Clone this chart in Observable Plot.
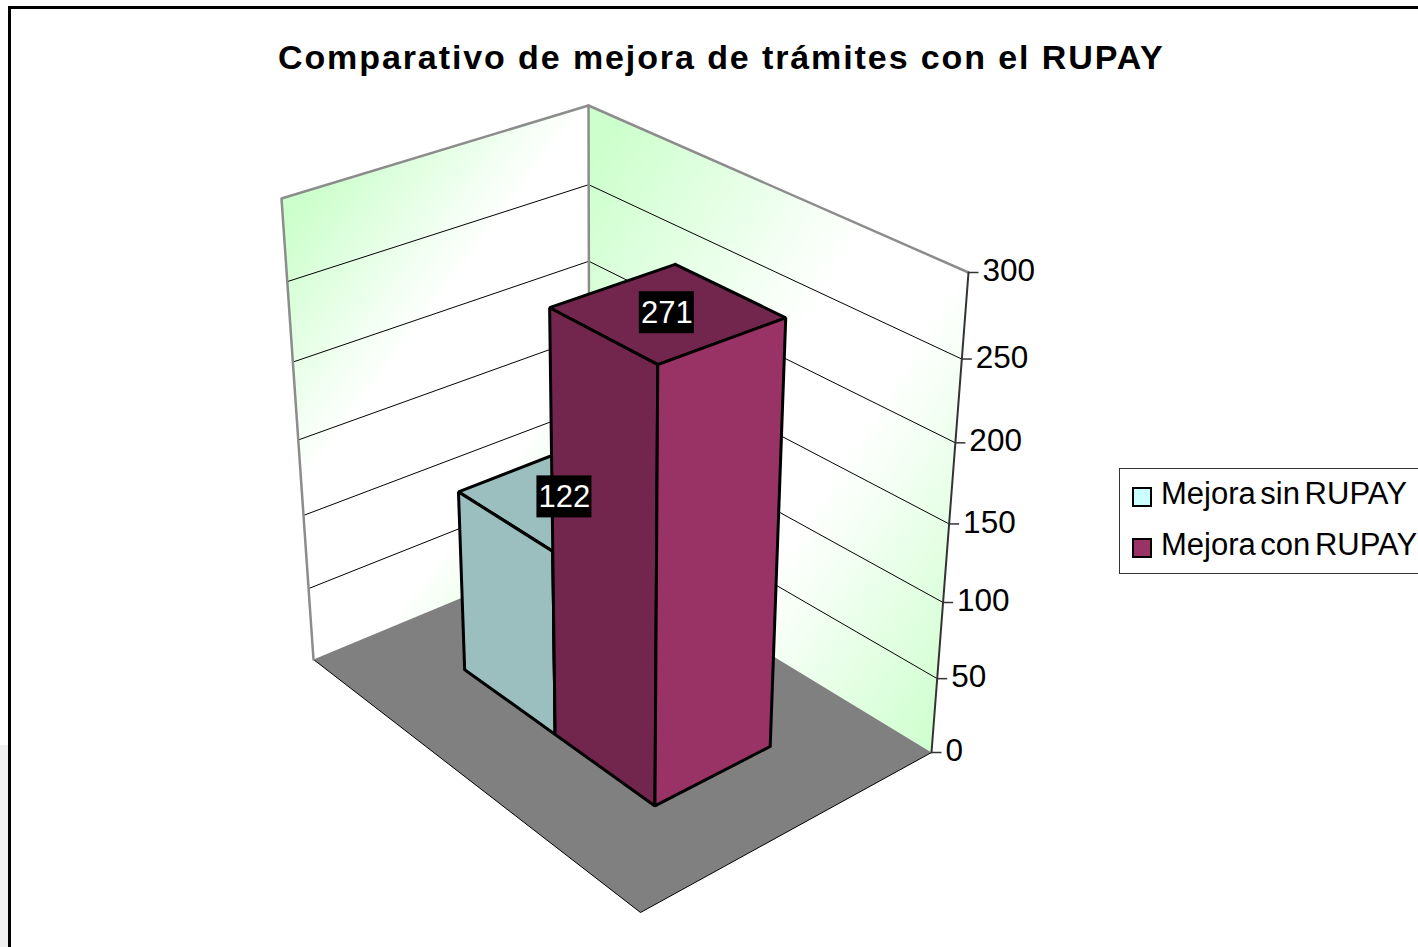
<!DOCTYPE html>
<html lang="es">
<head>
<meta charset="utf-8">
<title>Comparativo de mejora de trámites con el RUPAY</title>
<script src="https://cdn.jsdelivr.net/npm/d3@7"></script>
<script src="https://cdn.jsdelivr.net/npm/@observablehq/plot@0.6"></script>
<style>
  html,body{margin:0;padding:0;background:#fff;overflow:hidden}
  #page{position:relative;width:1418px;height:947px;overflow:hidden;font-family:"Liberation Sans",Arial,sans-serif;color:#000}
  #frame{position:absolute;left:8px;top:6px;width:1500px;height:1000px;border-left:3px solid #000;border-top:3px solid #000}
  #strip{position:absolute;left:0;top:745px;width:8px;height:202px;background:#f0f0f0}
  #title{position:absolute;left:278px;top:37px;font-weight:bold;font-size:34px;line-height:40px;white-space:nowrap;letter-spacing:1.9px}
  #chart{position:absolute;left:0;top:0}
  #legend{position:absolute;left:1119px;top:468px;width:330px;height:104px;border:1px solid #333;background:#fff}
  .row{position:absolute;left:12px;font-size:31px;line-height:36px;white-space:nowrap;word-spacing:-4px}
  .swatch{position:absolute;left:0;top:11px;width:16px;height:16px;border:2.5px solid #000;box-sizing:content-box}
  .row span.t{position:absolute;left:29px;top:0}
</style>
</head>
<body>
<div id="page">
  <div id="strip"></div>
  <div id="frame"></div>
  <div id="chart"></div>
  <div id="title">Comparativo de mejora de trámites con el RUPAY</div>
  <div id="legend"></div>
</div>
<script>
// ---- data ----
const categories = ["Mejora sin RUPAY", "Mejora con RUPAY"];
const values = [122, 271];
const axisTicks = [0, 50, 100, 150, 200, 250, 300];
const swatchColors = ["#CCFFFF", "#993366"];
const sideColors = ["#9BBFBF", "#993366"];
const shadeColors = ["#9BBFBF", "#73264D"];
const axisMax = 300;

// ---- camera of the 3-D view: where the box corners fall on the page ----
const floorQuad = {o: [589, 544], l: [313, 659], r: [931, 752], f: [640, 912]};
const roofQuad = {o: [588, 105], l: [281, 198], r: [968, 272], f: [640, 392]};
const heightPerspective = 1.10;
const depthBand = [0.305, 0.705], sideBand = [0.222, 0.795];

function homography({o, l, r, f}) {
  const A = l[0] - f[0], B = r[0] - f[0], C = o[0] - f[0];
  const D = l[1] - f[1], E = r[1] - f[1], G = o[1] - f[1];
  const det = A * E - B * D;
  const a = (C * E - B * G) / det;
  const b = (A * G - C * D) / det;
  return (u, v) => {
    const w = 1 + u * (a - 1) + v * (b - 1);
    return [
      (o[0] + u * (a * l[0] - o[0]) + v * (b * r[0] - o[0])) / w,
      (o[1] + u * (a * l[1] - o[1]) + v * (b * r[1] - o[1])) / w
    ];
  };
}
const onFloor = homography(floorQuad), onRoof = homography(roofQuad);
function project(u, v, value) {
  const t = value / axisMax;
  const s = t / (t + (1 - t) * heightPerspective);
  const p = onFloor(u, v), q = onRoof(u, v);
  return {x: p[0] + (q[0] - p[0]) * s, y: p[1] + (q[1] - p[1]) * s};
}

// ---- faces built from the data through the camera ----
const pts = (face, fill, list) => list.map(([u, v, val]) => ({face, fill, ...project(u, v, val)}));
const leftWall = pts("leftWall", null, [[0,0,0],[1,0,0],[1,0,axisMax],[0,0,axisMax],[0,0,0]]);
const rightWall = pts("rightWall", null, [[0,0,0],[0,1,0],[0,1,axisMax],[0,0,axisMax],[0,0,0]]);
const floor = pts("floor", "#808080", [[0,0,0],[1,0,0],[1,1,0],[0,1,0],[0,0,0]]);
const floorEdge = pts("edge", null, [[1,0,0],[1,1,0],[0,1,0]]);
const grid = axisTicks.filter(t => t > 0 && t < axisMax)
  .flatMap(t => pts("g" + t, null, [[1,0,t],[0,0,t],[0,1,t]]));
const wallOutline = [
  ...pts("o1", null, [[1,0,0],[1,0,axisMax],[0,0,axisMax],[0,1,axisMax]]),
  ...pts("o2", null, [[0,0,0],[0,0,axisMax]])
];
const axisLine = pts("axis", null, [[0,1,0],[0,1,axisMax]]);
const tickData = axisTicks.map(t => ({t, ...project(0, 1, t)}));

const faces = values.flatMap((val, i) => {
  const [u0, u1] = depthBand;
  const step = (sideBand[1] - sideBand[0]) / categories.length;
  const v0 = sideBand[0] + i * step, v1 = v0 + step;
  const k = "b" + i;
  return [
    ...pts(k + "top", shadeColors[i], [[u0,v0,val],[u1,v0,val],[u1,v1,val],[u0,v1,val],[u0,v0,val]]),
    ...pts(k + "left", shadeColors[i], [[u1,v0,0],[u1,v1,0],[u1,v1,val],[u1,v0,val],[u1,v0,0]]),
    ...pts(k + "right", sideColors[i], [[u0,v1,0],[u1,v1,0],[u1,v1,val],[u0,v1,val],[u0,v1,0]])
  ];
});
const labels = values.map((val, i) => {
  const step = (sideBand[1] - sideBand[0]) / categories.length;
  return {val, ...project((depthBand[0] + depthBand[1]) / 2, sideBand[0] + (i + 0.5) * step, val)};
});

const defs = () => {
  const s = d3.create("svg:defs");
  const grad = (id, x1, y1, x2, y2, stops) => {
    const g = s.append("linearGradient").attr("id", id).attr("gradientUnits", "userSpaceOnUse")
      .attr("x1", x1).attr("y1", y1).attr("x2", x2).attr("y2", y2);
    stops.forEach(([o, c]) => g.append("stop").attr("offset", o).attr("stop-color", c));
  };
  grad("gl", 281, 198, 681, 498, [[0,"#CCFFCC"],[0.04,"#CCFFCC"],[0.38,"#FFFFFF"],[0.68,"#FFFFFF"],[1,"#CCFFCC"]]);
  grad("gr", 587, 105, 1131, 444, [[0,"#CCFFCC"],[0.05,"#CCFFCC"],[0.47,"#FFFFFF"],[0.63,"#FFFFFF"],[1,"#CCFFCC"]]);
  return s.node();
};

const chart = Plot.plot({
  width: 1418, height: 947,
  margin: 0,
  x: {type: "identity", axis: null}, y: {type: "identity", axis: null},
  color: {type: "identity"},
  style: {background: "transparent", fontFamily: "'Liberation Sans', Arial, sans-serif"},
  marks: [
    defs,
    Plot.line(leftWall, {x: "x", y: "y", fill: "url(#gl)", stroke: "none"}),
    Plot.line(rightWall, {x: "x", y: "y", fill: "url(#gr)", stroke: "none"}),
    Plot.line(grid, {x: "x", y: "y", z: "face", stroke: "#000", strokeWidth: 1}),
    Plot.line(floor, {x: "x", y: "y", fill: "fill", stroke: "none"}),
    Plot.line(floorEdge, {x: "x", y: "y", stroke: "#000", strokeWidth: 1}),
    Plot.line(wallOutline, {x: "x", y: "y", z: "face", stroke: "#8c8c8c", strokeWidth: 2.5}),
    Plot.line(axisLine, {x: "x", y: "y", stroke: "#333", strokeWidth: 2}),
    Plot.link(tickData, {x1: "x", y1: "y", x2: d => d.x + 10, y2: "y", stroke: "#333", strokeWidth: 1.5}),
    Plot.text(tickData, {x: "x", y: "y", dx: 14, dy: -1.5, text: d => String(d.t), textAnchor: "start", lineAnchor: "middle", fontSize: 31.5, fill: "#000"}),
    Plot.line(faces, {x: "x", y: "y", z: "face", fill: "fill", stroke: "#000", strokeWidth: 3, strokeLinejoin: "miter"}),
    Plot.rect(labels, {x1: d => d.x - 27.5, x2: d => d.x + 27.5, y1: d => d.y - 21, y2: d => d.y + 21, fill: "#000"}),
    Plot.text(labels, {x: "x", y: "y", text: d => String(d.val), fill: "#fff", fontSize: 31, lineAnchor: "middle"})
  ]
});
document.getElementById("chart").append(chart);

// ---- legend ----
const legend = d3.select("#legend");
categories.forEach((name, i) => {
  const row = legend.append("div").attr("class", "row").style("top", (7 + i * 51) + "px").style("height", "36px");
  row.append("span").attr("class", "swatch").style("background", swatchColors[i]);
  row.append("span").attr("class", "t").text(name);
});
</script>
</body>
</html>
